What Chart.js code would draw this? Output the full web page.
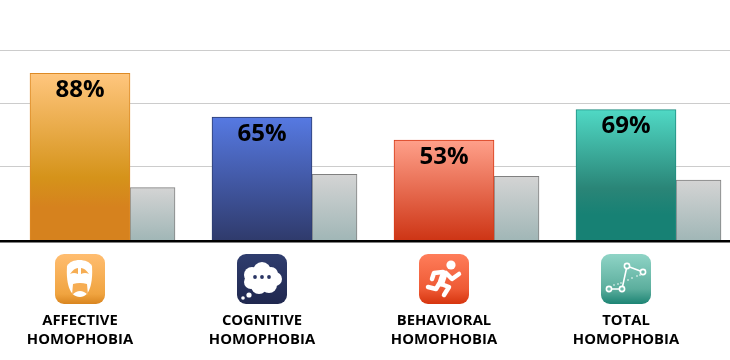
<!DOCTYPE html>
<html>
<head>
<meta charset="utf-8">
<style>
  html, body { margin: 0; padding: 0; background: #fff; overflow: hidden; }
  canvas { display: block; }
</style>
<script src="https://cdn.jsdelivr.net/npm/chart.js@4/dist/chart.umd.min.js"></script>
</head>
<body>
<canvas id="chart" width="730" height="360"></canvas>
<script>
// Chart data
const categories = [["AFFECTIVE", "HOMOPHOBIA"], ["COGNITIVE", "HOMOPHOBIA"], ["BEHAVIORAL", "HOMOPHOBIA"], ["TOTAL", "HOMOPHOBIA"]];
const mainValues = [88, 65, 53, 69];
const grayValues = [28, 35, 34, 32];
const gridValues = [0, 39, 72, 100];

// Colours per category: gradient stops of the bar, border, and icon gradient
const barStops = [
  [[0, "#ffc67e"], [0.62, "#d5931a"], [0.8, "#d6821e"], [1, "#d6821e"]],
  [[0, "#5679e2"], [1, "#2f3a6b"]],
  [[0, "#ffa08a"], [1, "#cd3414"]],
  [[0, "#50d9c5"], [0.6, "#2a8577"], [0.8, "#178174"], [1, "#178174"]]
];
const barBorders = ["#dd8a25", "#2c3c70", "#d63a17", "#1f8c80"];
const iconStops = [
  [[0, "#ffbd70"], [0.8, "#f0a440"], [1, "#d9851f"]],
  [[0, "#2f3d6e"], [1, "#20284f"]],
  [[0, "#ff7d5a"], [0.7, "#ee5a35"], [1, "#d6350f"]],
  [[0, "#8fd4c6"], [0.7, "#5cae9d"], [1, "#1d8474"]]
];

const categoryStep = 182;      // px between categories
const firstCenter = 80;        // px of first category
const grayShift = 72.5 / categoryStep;
const iconSize = 50;

function verticalGradient(ctx, top, bottom, stops) {
  const g = ctx.createLinearGradient(0, top, 0, bottom);
  stops.forEach(s => g.addColorStop(s[0], s[1]));
  return g;
}

function barGradient(c, stops) {
  // options get resolved once before the layout has run
  if (c.type !== "data" || !c.chart.chartArea) return "#ccc";
  const y = c.chart.scales.y;
  return verticalGradient(c.chart.ctx, y.getPixelForValue(c.raw.y), y.getPixelForValue(0), stops);
}

function roundedBox(ctx, x, y, s, r) {
  ctx.beginPath();
  ctx.roundRect(x, y, s, s, r);
  ctx.fill();
}

// Icon glyphs, drawn in a 50x50 box
function drawMask(ctx, tint) {
  ctx.fillStyle = "#fff";
  ctx.beginPath();
  ctx.moveTo(12, 12);
  ctx.bezierCurveTo(16, 4, 33, 4, 37, 12);
  ctx.bezierCurveTo(38, 28, 35, 43, 25, 43);
  ctx.bezierCurveTo(14, 43, 11, 28, 12, 12);
  ctx.fill();
  ctx.fillStyle = tint;
  ctx.beginPath(); ctx.moveTo(15, 20); ctx.quadraticCurveTo(19, 14, 23, 14); ctx.lineTo(23, 20); ctx.quadraticCurveTo(19, 18, 15, 20); ctx.fill();
  ctx.beginPath(); ctx.moveTo(34, 20); ctx.quadraticCurveTo(30, 14, 26, 14); ctx.lineTo(26, 20); ctx.quadraticCurveTo(30, 18, 34, 20); ctx.fill();
  ctx.beginPath(); ctx.moveTo(18, 30); ctx.quadraticCurveTo(25, 28, 32, 30); ctx.lineTo(33, 41); ctx.quadraticCurveTo(25, 33, 17, 41); ctx.closePath(); ctx.fill();
}

function drawCloud(ctx, tint) {
  ctx.fillStyle = "#fff";
  [[15, 21, 8], [25, 17, 9], [34, 20, 7], [38, 25, 7], [32, 31, 8], [22, 32, 8], [14, 28, 7], [25, 25, 10]].forEach(c => {
    ctx.beginPath(); ctx.arc(c[0], c[1], c[2], 0, Math.PI * 2); ctx.fill();
  });
  [[12, 41, 2.6], [6, 44, 1.8]].forEach(c => {
    ctx.beginPath(); ctx.arc(c[0], c[1], c[2], 0, Math.PI * 2); ctx.fill();
  });
  ctx.fillStyle = tint;
  [18, 25, 32].forEach(x => {
    ctx.beginPath(); ctx.arc(x, 23, 1.9, 0, Math.PI * 2); ctx.fill();
  });
}

function drawRunner(ctx) {
  ctx.fillStyle = "#fff";
  ctx.strokeStyle = "#fff";
  ctx.lineCap = "round";
  ctx.lineJoin = "round";
  ctx.beginPath(); ctx.arc(32, 11, 4.6, 0, Math.PI * 2); ctx.fill();
  ctx.lineWidth = 7;
  ctx.beginPath(); ctx.moveTo(25, 20); ctx.lineTo(22, 29); ctx.stroke();
  ctx.lineWidth = 4.5;
  ctx.beginPath(); ctx.moveTo(24, 18); ctx.lineTo(15, 19); ctx.lineTo(13, 25); ctx.stroke();
  ctx.beginPath(); ctx.moveTo(27, 19); ctx.lineTo(33, 25); ctx.lineTo(40, 20); ctx.stroke();
  ctx.beginPath(); ctx.moveTo(22, 30); ctx.lineTo(30, 33); ctx.lineTo(25, 41); ctx.stroke();
  ctx.beginPath(); ctx.moveTo(20, 30); ctx.lineTo(17, 35); ctx.lineTo(9, 33); ctx.stroke();
}

function drawGraph(ctx) {
  ctx.strokeStyle = "#fff";
  ctx.lineWidth = 1.6;
  const pts = [[8, 35], [21, 35], [26, 12], [42, 18]];
  ctx.beginPath();
  pts.forEach((p, i) => (i ? ctx.lineTo(p[0], p[1]) : ctx.moveTo(p[0], p[1])));
  ctx.stroke();
  pts.forEach(p => {
    ctx.beginPath(); ctx.arc(p[0], p[1], 2.6, 0, Math.PI * 2);
    ctx.fillStyle = "#6fbcac"; ctx.fill(); ctx.stroke();
  });
  ctx.fillStyle = "#fff";
  [[13, 31], [17, 30], [20, 29], [27, 26], [31, 24], [36, 22], [39, 21]].forEach(p => {
    ctx.beginPath(); ctx.arc(p[0], p[1], 0.8, 0, Math.PI * 2); ctx.fill();
  });
}

const iconGlyphs = [
  c => drawMask(c, "#f6ad53"),
  c => drawCloud(c, "#2a3564"),
  c => drawRunner(c),
  c => drawGraph(c)
];

// Percent labels inside the bars and icons under the axis
const decorations = {
  id: "decorations",
  afterDatasetsDraw(chart) {
    const ctx = chart.ctx;
    const meta = chart.getDatasetMeta(1);
    ctx.save();
    ctx.font = "bold 24px 'Open Sans'";
    ctx.fillStyle = "#000";
    ctx.textAlign = "center";
    ctx.textBaseline = "middle";
    meta.data.forEach((bar, i) => {
      ctx.fillText(mainValues[i] + "%", bar.x, bar.y + 17);
    });
    ctx.restore();

    const xs = chart.scales.x;
    categories.forEach((cat, i) => {
      const left = Math.round(xs.getPixelForValue(i) - iconSize / 2);
      const top = 254;
      ctx.save();
      ctx.translate(left, top);
      ctx.fillStyle = verticalGradient(ctx, 0, iconSize, iconStops[i]);
      roundedBox(ctx, 0, 0, iconSize, 9);
      iconGlyphs[i](ctx);
      ctx.restore();
    });
  }
};

const indices = categories.map((c, i) => i);

new Chart(document.getElementById("chart"), {
  type: "bar",
  data: {
    datasets: [
      {
        // gray comparison bars, behind the coloured ones
        data: grayValues.map((v, i) => ({ x: i + grayShift, y: v })),
        barThickness: 45,
        borderWidth: 1,
        borderColor: "#808080",
        backgroundColor: c => barGradient(c, [[0, "#d4d4d4"], [1, "#a0b6b6"]]),
        grouped: false,
        order: 2
      },
      {
        data: mainValues.map((v, i) => ({ x: i, y: v })),
        barThickness: 100,
        borderWidth: 1,
        borderColor: c => barBorders[c.dataIndex],
        backgroundColor: c => barGradient(c, barStops[c.dataIndex]),
        grouped: false,
        order: 1
      }
    ]
  },
  plugins: [decorations],
  options: {
    responsive: false,
    animation: false,
    layout: { padding: 0 },
    plugins: { legend: { display: false }, tooltip: { enabled: false } },
    scales: {
      x: {
        type: "linear",
        offset: false,
        min: -firstCenter / categoryStep,
        max: (730 - firstCenter) / categoryStep,
        afterBuildTicks: axis => { axis.ticks = indices.map(v => ({ value: v })); },
        afterFit: axis => {
          axis.paddingLeft = 0;
          axis.paddingRight = 0;
          axis.height = 119;
        },
        grid: { display: false },
        border: { color: "#000", width: 2.4, z: 1 },
        ticks: {
          autoSkip: false,
          maxRotation: 0,
          padding: 62,
          color: "#000",
          font: { family: "'Open Sans'", size: 14.8, weight: "bold", lineHeight: 1.3 },
          callback: v => categories[v]
        }
      },
      y: {
        min: 0,
        max: 126.5,
        afterBuildTicks: axis => { axis.ticks = gridValues.map(v => ({ value: v })); },
        grid: { color: "#cccccc", lineWidth: 1, drawTicks: false },
        border: { display: false },
        ticks: { display: false }
      }
    }
  }
});
</script>
</body>
</html>
